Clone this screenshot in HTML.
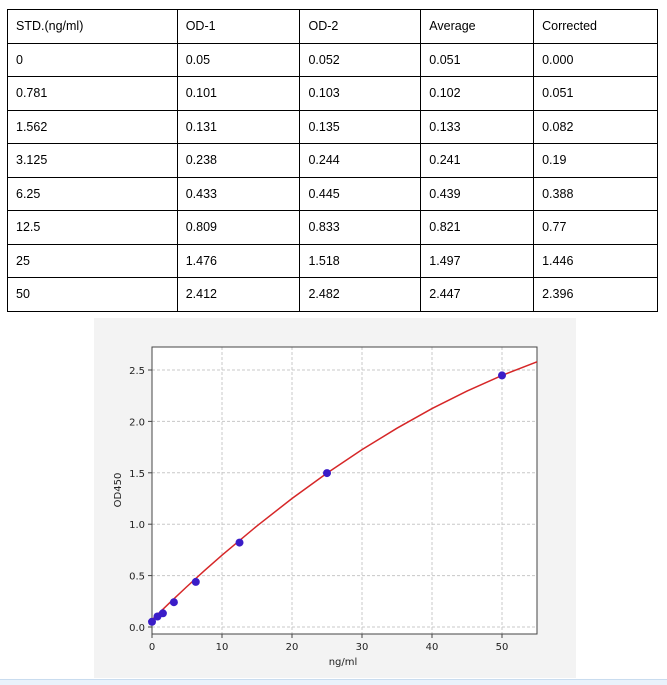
<!DOCTYPE html>
<html><head><style>
body{margin:0;width:667px;height:684px;background:#fff;position:relative;overflow:hidden;font-family:"Liberation Sans",sans-serif}
table{position:absolute;left:7px;top:9px;border-collapse:collapse;width:651px}
td{border:1px solid #000;height:33.5px;padding:0 0 0 8px;font-size:12.5px;color:#000;box-sizing:border-box}
.band{position:absolute;left:0;top:679px;width:667px;height:5px;background:#eaf2fb;border-top:1px solid #c9dcef}
</style></head><body>
<table>
<colgroup><col style="width:170px"><col style="width:123px"><col style="width:121px"><col style="width:113px"><col style="width:124px"></colgroup>
<tr><td>STD.(ng/ml)</td><td>OD-1</td><td>OD-2</td><td>Average</td><td>Corrected</td></tr>
<tr><td>0</td><td>0.05</td><td>0.052</td><td>0.051</td><td>0.000</td></tr>
<tr><td>0.781</td><td>0.101</td><td>0.103</td><td>0.102</td><td>0.051</td></tr>
<tr><td>1.562</td><td>0.131</td><td>0.135</td><td>0.133</td><td>0.082</td></tr>
<tr><td>3.125</td><td>0.238</td><td>0.244</td><td>0.241</td><td>0.19</td></tr>
<tr><td>6.25</td><td>0.433</td><td>0.445</td><td>0.439</td><td>0.388</td></tr>
<tr><td>12.5</td><td>0.809</td><td>0.833</td><td>0.821</td><td>0.77</td></tr>
<tr><td>25</td><td>1.476</td><td>1.518</td><td>1.497</td><td>1.446</td></tr>
<tr><td>50</td><td>2.412</td><td>2.482</td><td>2.447</td><td>2.396</td></tr>
</table>
<svg style="position:absolute;left:0;top:0" width="667" height="684" font-family="DejaVu Sans, sans-serif" font-size="10" fill="#222">
<rect x="94" y="318" width="482" height="360" fill="#f3f3f3"/>
<rect x="152" y="347" width="385" height="287" fill="#fff"/>
<g stroke="#c8c8c8" stroke-dasharray="3,2" stroke-width="1">
<line x1="222" y1="347" x2="222" y2="634"/><line x1="292" y1="347" x2="292" y2="634"/><line x1="362" y1="347" x2="362" y2="634"/><line x1="432" y1="347" x2="432" y2="634"/><line x1="502" y1="347" x2="502" y2="634"/>
<line x1="152" y1="627" x2="537" y2="627"/><line x1="152" y1="575.6" x2="537" y2="575.6"/><line x1="152" y1="524.2" x2="537" y2="524.2"/><line x1="152" y1="472.8" x2="537" y2="472.8"/><line x1="152" y1="421.4" x2="537" y2="421.4"/><line x1="152" y1="370" x2="537" y2="370"/>
</g>
<rect x="152" y="347" width="385" height="287" fill="none" stroke="#444" stroke-width="1"/>
<g stroke="#444"><line x1="152" y1="634" x2="152" y2="638"/><line x1="222" y1="634" x2="222" y2="638"/><line x1="292" y1="634" x2="292" y2="638"/><line x1="362" y1="634" x2="362" y2="638"/><line x1="432" y1="634" x2="432" y2="638"/><line x1="502" y1="634" x2="502" y2="638"/>
<line x1="148" y1="627" x2="152" y2="627"/><line x1="148" y1="575.6" x2="152" y2="575.6"/><line x1="148" y1="524.2" x2="152" y2="524.2"/><line x1="148" y1="472.8" x2="152" y2="472.8"/><line x1="148" y1="421.4" x2="152" y2="421.4"/><line x1="148" y1="370" x2="152" y2="370"/></g>
<g text-anchor="middle"><text x="152" y="650">0</text><text x="222" y="650">10</text><text x="292" y="650">20</text><text x="362" y="650">30</text><text x="432" y="650">40</text><text x="502" y="650">50</text>
<text x="343" y="665">ng/ml</text></g>
<g text-anchor="end"><text x="145" y="631">0.0</text><text x="145" y="579.6">0.5</text><text x="145" y="528.2">1.0</text><text x="145" y="476.8">1.5</text><text x="145" y="425.4">2.0</text><text x="145" y="374">2.5</text></g>
<text transform="translate(121,490) rotate(-90)" text-anchor="middle">OD450</text>
<polyline fill="none" stroke="#d62728" stroke-width="1.5" points="152,619.8 169.5,602.9 187,586.5 204.5,570.6 222,555.2 257,525.9 292,498.5 327,473.1 362,449.6 397,428.2 432,408.6 467,391.1 502,375.4 537,361.8"/>
<g fill="#3a1cc8"><circle cx="152" cy="621.8" r="4"/><circle cx="157.5" cy="616.5" r="4"/><circle cx="162.9" cy="613.3" r="4"/><circle cx="173.9" cy="602.2" r="4"/><circle cx="195.8" cy="581.9" r="4"/><circle cx="239.5" cy="542.6" r="4"/><circle cx="327" cy="473.1" r="4"/><circle cx="502" cy="375.4" r="4"/></g>
</svg>
<div class="band"></div>
</body></html>
